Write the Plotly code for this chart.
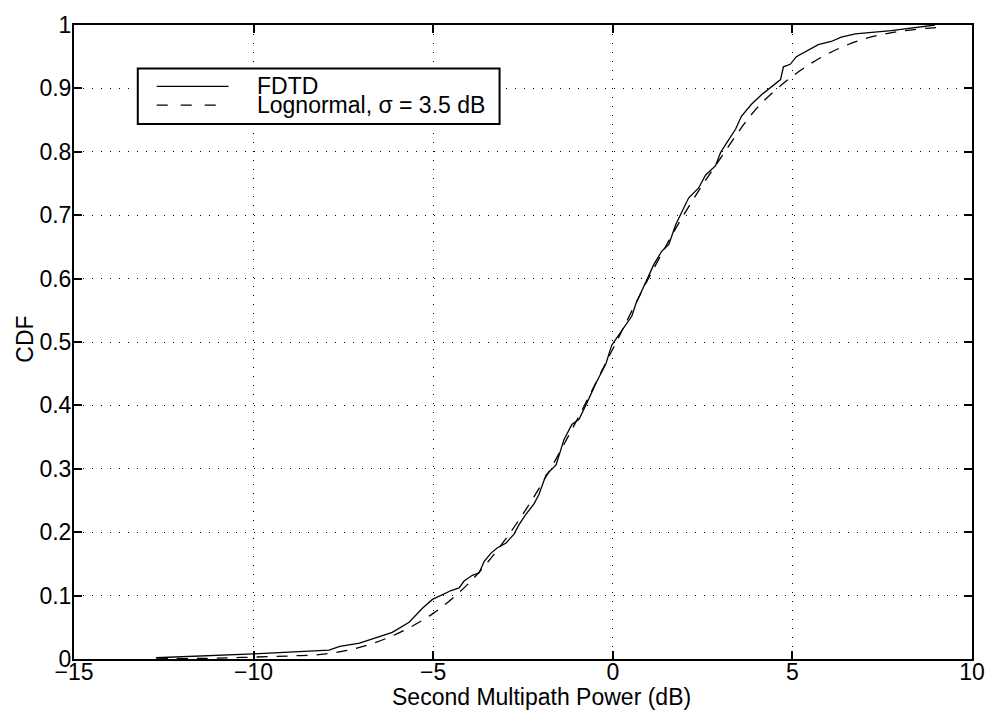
import plotly.graph_objects as go

fdtd_x = [-12.72, -10.0, -7.9, -7.8, -7.6, -7.05, -6.58, -6.14, -5.67, -5.3, -5.02, -4.78, -4.5, -4.28,
          -4.14, -3.91, -3.72, -3.58, -3.39, -3.22, -2.97, -2.75, -2.61, -2.42, -2.19, -2.06, -1.92,
          -1.86, -1.58, -1.44, -1.36, -1.14, -0.94, -0.72, -0.47, -0.19, -0.03, 0.25, 0.53, 0.64,
          0.94, 1.14, 1.36, 1.56, 1.75, 1.92, 2.11, 2.39, 2.58, 2.86, 3.0, 3.17, 3.42, 3.58, 3.86,
          4.14, 4.42, 4.67, 4.75, 4.94, 5.11, 5.44, 5.72, 6.08, 6.36, 6.75, 7.75, 8.97]
fdtd_y = [0.002, 0.008, 0.014, 0.016, 0.02, 0.025, 0.034, 0.042, 0.058, 0.08, 0.094, 0.10, 0.108, 0.112,
          0.123, 0.132, 0.136, 0.154, 0.167, 0.175, 0.183, 0.197, 0.212, 0.228, 0.245, 0.259, 0.279,
          0.29, 0.306, 0.331, 0.346, 0.37, 0.378, 0.404, 0.435, 0.466, 0.495, 0.518, 0.541, 0.56,
          0.596, 0.622, 0.643, 0.654, 0.685, 0.704, 0.727, 0.743, 0.763, 0.778, 0.799, 0.814, 0.836, 0.856, 0.875,
          0.89, 0.903, 0.914, 0.934, 0.938, 0.95, 0.961, 0.969, 0.974, 0.981, 0.986, 0.991, 1.0]

# Lognormal fit, sigma = 3.5 dB
logn_x = [-12.7, -11, -10, -9, -8, -7, -6, -5, -4, -3, -2, -1, 0, 1, 2, 3, 4, 5, 6, 7, 8, 9]
logn_y = [0.0002, 0.0014, 0.003, 0.0048, 0.008, 0.019, 0.04, 0.072, 0.12, 0.188, 0.274, 0.377,
          0.489, 0.601, 0.703, 0.79, 0.868, 0.919, 0.955, 0.978, 0.99, 0.996]

x_ticks = [-15, -10, -5, 0, 5, 10]
y_ticks = [0, 0.1, 0.2, 0.3, 0.4, 0.5, 0.6, 0.7, 0.8, 0.9, 1]
y_tick_text = ["0", "0.1", "0.2", "0.3", "0.4", "0.5", "0.6", "0.7", "0.8", "0.9", "1"]

legend_labels = ["FDTD", "Lognormal, σ = 3.5 dB"]
x_title = "Second Multipath Power (dB)"
y_title = "CDF"

FONT = "Liberation Sans, Arial, Helvetica, sans-serif"
FS = 23

fig = go.Figure()
fig.add_trace(go.Scatter(x=fdtd_x, y=fdtd_y, mode="lines",
                         line=dict(color="black", width=1.3), name=legend_labels[0],
                         showlegend=False))
fig.add_trace(go.Scatter(x=logn_x, y=logn_y, mode="lines",
                         line=dict(color="black", width=1.3, dash="11px,9px", shape="spline"),
                         name=legend_labels[1], showlegend=False))

axis_common = dict(showline=True, linecolor="black", linewidth=2, mirror="ticks",
                   ticks="inside", ticklen=8, tickwidth=1.5, tickcolor="black",
                   showgrid=True, gridcolor="black", gridwidth=1, griddash="1px,8px",
                   zeroline=False, tickfont=dict(family=FONT, size=FS, color="black"))

fig.update_xaxes(range=[-15, 10], tickvals=x_ticks, ticklabelstandoff=-9, **axis_common)
fig.update_yaxes(range=[0, 1], tickvals=y_ticks, ticktext=y_tick_text, ticklabelstandoff=-4,
                 **axis_common)

L, R, T, B = 74, 22, 18, 56
W, H = 997, 715
pw, ph = W - L - R, H - T - B

def px(xp):
    return (xp - L) / pw

def py(yp):
    return (H - B - yp) / ph

# legend box and samples
shapes = [
    dict(type="rect", xref="paper", yref="paper", x0=px(138), x1=px(501), y0=py(118), y1=py(62),
         line=dict(color="black", width=2), fillcolor="white", layer="above"),
    dict(type="line", xref="paper", yref="paper", x0=px(157), x1=px(229), y0=py(80), y1=py(80),
         line=dict(color="black", width=1.3)),
    dict(type="line", xref="paper", yref="paper", x0=px(157), x1=px(229), y0=py(99), y1=py(99),
         line=dict(color="black", width=1.3, dash="11px,13px")),
]
annotations = [
    dict(text=legend_labels[0], xref="paper", yref="paper", x=px(256), y=py(80),
         xanchor="left", yanchor="middle", showarrow=False,
         font=dict(family=FONT, size=FS, color="black")),
    dict(text=legend_labels[1], xref="paper", yref="paper", x=px(256), y=py(99),
         xanchor="left", yanchor="middle", showarrow=False,
         font=dict(family=FONT, size=FS, color="black")),
    dict(text=x_title, xref="paper", yref="paper", x=px(543), y=py(697),
         xanchor="center", yanchor="middle", showarrow=False,
         font=dict(family=FONT, size=FS, color="black")),
    dict(text=y_title, xref="paper", yref="paper", x=px(24), y=py(336), textangle=-90,
         xanchor="center", yanchor="middle", showarrow=False,
         font=dict(family=FONT, size=FS, color="black")),
]

fig.update_layout(width=W, height=H, margin=dict(l=L, r=R, t=T, b=B),
                  paper_bgcolor="white", plot_bgcolor="white",
                  shapes=shapes, annotations=annotations, showlegend=False,
                  font=dict(family=FONT, size=FS, color="black"))

fig.write_html("out.html")
